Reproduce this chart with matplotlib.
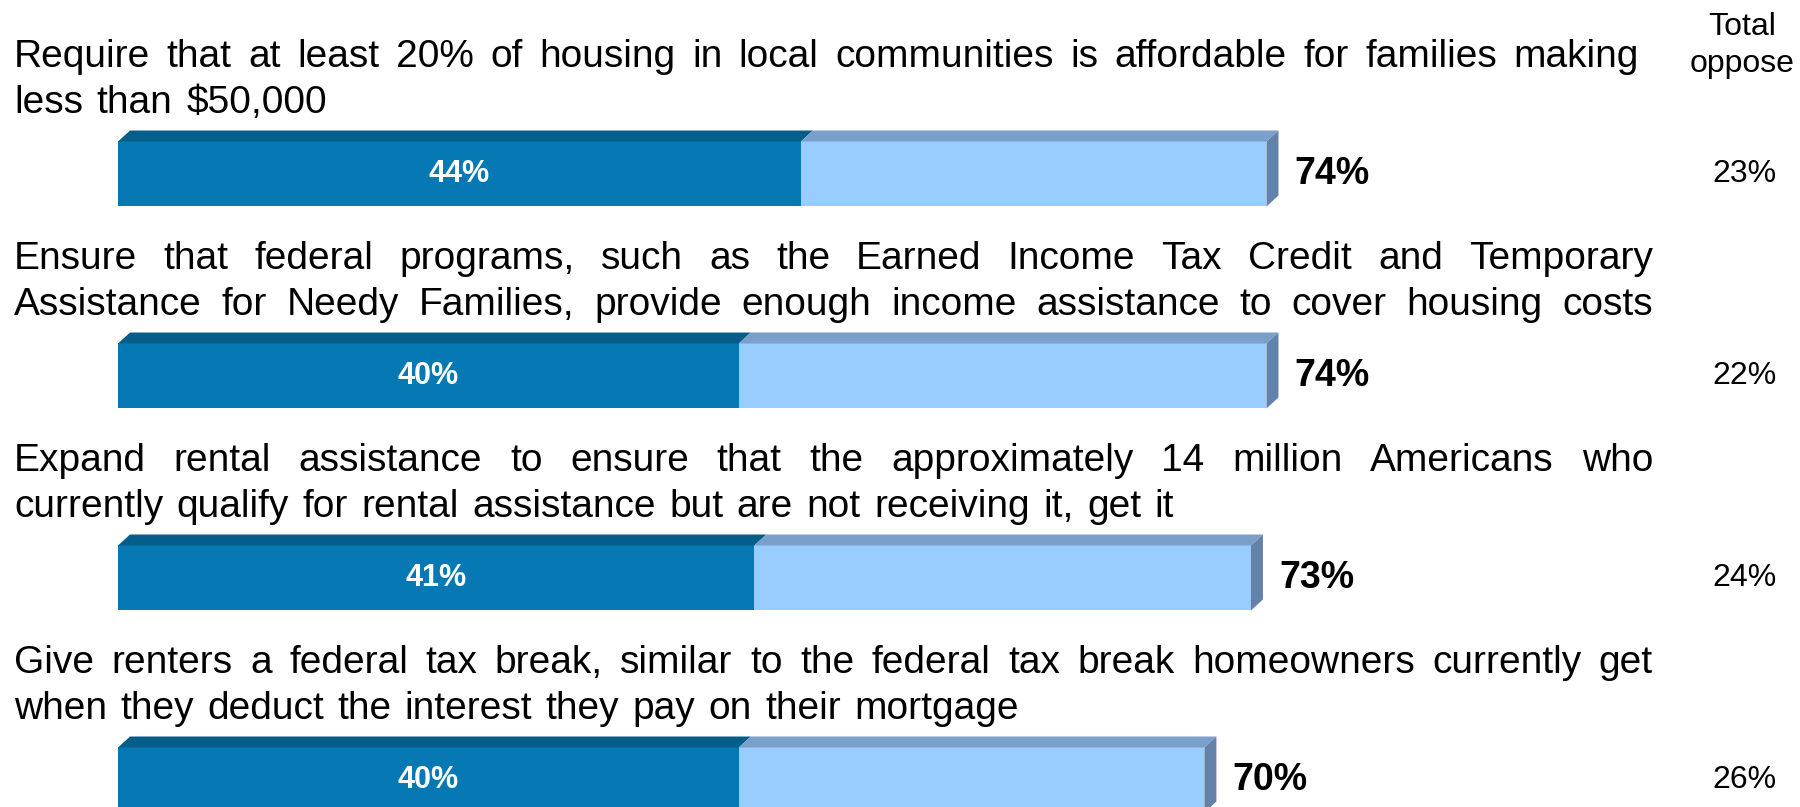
import matplotlib
matplotlib.use('Agg')
from matplotlib import pyplot as plt
from matplotlib.patches import Polygon
import numpy as np

# survey data
items = [
    ["Require that at least 20% of housing in local communities is affordable for families making",
     "less than $50,000"],
    ["Ensure that federal programs, such as the Earned Income Tax Credit and Temporary",
     "Assistance for Needy Families, provide enough income assistance to cover housing costs"],
    ["Expand rental assistance to ensure that the approximately 14 million Americans who",
     "currently qualify for rental assistance but are not receiving it, get it"],
    ["Give renters a federal tax break, similar to the federal tax break homeowners currently get",
     "when they deduct the interest they pay on their mortgage"],
]
strong_support = [44, 40, 41, 40]
total_support = [74, 74, 73, 70]
total_oppose = [23, 22, 24, 26]

W, H = 1800, 807
FONT = 'Liberation Sans'

DARK = '#0679B5'
DARK_TOP = '#055E8A'
LIGHT = '#99CCFF'
LIGHT_TOP = '#7A9FCB'
SIDE = '#6482A9'

fig = plt.figure(figsize=(W / 100, H / 100), dpi=100)
ax = fig.add_axes([0, 0, 1, 1])
ax.axis('off')

# x axis in percent, y axis in rows (0 at top)
px_per_pct = 15.52
x0_px = 118
row0_px, row_px = 174, 202
ax.set_xlim(-x0_px / px_per_pct, (W - x0_px) / px_per_pct)
ax.set_ylim((H - row0_px) / row_px, -row0_px / row_px)

rows = np.arange(len(items))
strong = np.array(strong_support)
total = np.array(total_support)
h = 65 / row_px
dx = 12 / px_per_pct
dy = 11 / row_px

ax.barh(rows, strong, height=h, color=DARK, lw=0)
ax.barh(rows, total - strong, left=strong, height=h, color=LIGHT, lw=0)

for r, s, t in zip(rows, strong, total):
    top = r - h / 2
    bot = r + h / 2
    ax.add_patch(Polygon([(0, top), (dx, top - dy), (s + dx, top - dy), (s, top)],
                         closed=True, color=DARK_TOP, lw=0))
    ax.add_patch(Polygon([(s, top), (s + dx, top - dy), (t + dx, top - dy), (t, top)],
                         closed=True, color=LIGHT_TOP, lw=0))
    ax.add_patch(Polygon([(t, top), (t + dx, top - dy), (t + dx, bot - dy), (t, bot)],
                         closed=True, color=SIDE, lw=0))
    ax.text(s / 2, r, f"{s}%", color='white', fontsize=22, fontweight='bold',
            family=FONT, ha='center', va='center')
    ax.text(t + 28 / px_per_pct, r, f"{t}%", color='black', fontsize=27, fontweight='bold',
            family=FONT, ha='left', va='center')

for r, o in zip(rows, total_oppose):
    ax.text(1744 / W, (H - (row0_px + row_px * r)) / H, f"{o}%", transform=fig.transFigure,
            fontsize=23, family=FONT, ha='center', va='center')

fig.text(1742 / W, 1 - 35 / H, "Total", fontsize=23, family=FONT, ha='center', va='baseline')
fig.text(1742 / W, 1 - 72 / H, "oppose", fontsize=23, family=FONT, ha='center', va='baseline')

# statement text, words spread out to fill each line's width
renderer = fig.canvas.get_renderer()
FS = 28


def spread(line, y_px, xa, xb):
    words = line.split()
    objs = [fig.text(0, 1 - y_px / H, w, fontsize=FS, family=FONT, va='baseline') for w in words]
    widths = [o.get_window_extent(renderer).width for o in objs]
    gap = (xb - xa - sum(widths)) / (len(words) - 1)
    x = xa
    for o, w in zip(objs, widths):
        o.set_x(x / W)
        x += w + gap


right1 = [1639, 1653, 1653, 1653]
right2 = [327, 1653, 1174, 1019]
for i, (l1, l2) in enumerate(items):
    base = 67 + row_px * i
    spread(l1, base, 14, right1[i])
    spread(l2, base + 46, 14, right2[i])

fig.savefig('out.png', dpi=100)
